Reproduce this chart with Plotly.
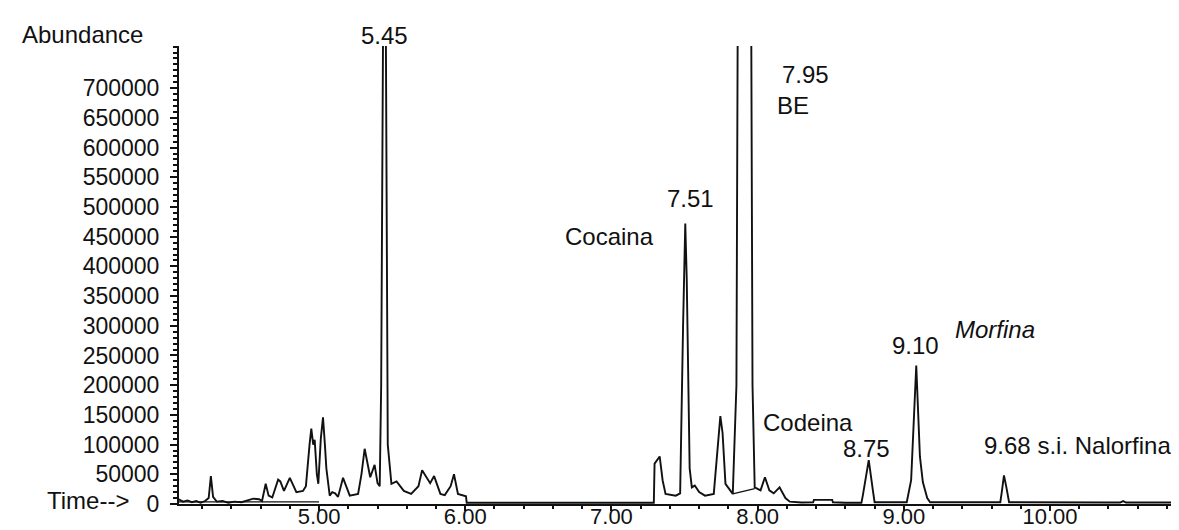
import plotly.graph_objects as go

# ---- chromatogram trace (retention time in min, abundance) ----
time_min = [
    4.04, 4.07, 4.10, 4.13, 4.16, 4.19, 4.22, 4.245, 4.26, 4.275, 4.30, 4.34, 4.38, 4.42,
    4.47, 4.52, 4.55, 4.59, 4.61, 4.635, 4.655, 4.68, 4.705, 4.72, 4.735, 4.76, 4.80, 4.845,
    4.89, 4.91, 4.935, 4.947, 4.96, 4.97, 4.985, 4.995, 5.012, 5.027, 5.04, 5.05, 5.073,
    5.09, 5.11, 5.13, 5.164, 5.19, 5.21, 5.267, 5.29, 5.312, 5.33, 5.35, 5.38, 5.40, 5.415,
    5.425, 5.44, 5.455, 5.47, 5.495, 5.53, 5.58, 5.63, 5.68, 5.705, 5.735, 5.76, 5.787,
    5.83, 5.86, 5.90, 5.923, 5.95, 6.005, 6.01, 6.50, 7.00, 7.29, 7.295, 7.33,
    7.35, 7.37, 7.44, 7.47, 7.49, 7.505, 7.515, 7.535, 7.55, 7.57, 7.60, 7.64, 7.70, 7.73,
    7.745, 7.76, 7.78, 7.83, 7.855, 7.865, 7.955, 7.965, 7.98, 8.02, 8.05, 8.08, 8.11,
    8.15, 8.19, 8.22, 8.30, 8.38, 8.385, 8.51, 8.515, 8.60, 8.71, 8.72, 8.76, 8.79, 8.80,
    9.02, 9.05, 9.085, 9.11, 9.13, 9.16, 9.18, 9.66, 9.67, 9.685, 9.70, 9.72, 10.40,
    10.48, 10.50, 10.52, 10.94,
]
abundance = [
    8000, 4000, 6000, 3000, 5000, 2000, 5000, 10000, 47000, 12000, 4000, 5000, 2000, 4000,
    3000, 6000, 9000, 8000, 5000, 34000, 14000, 11000, 30000, 41000, 38000, 22000, 44000, 20000,
    22000, 30000, 100000, 127000, 100000, 108000, 50000, 34000, 110000, 146000, 100000, 60000, 14000,
    20000, 18000, 12000, 44000, 25000, 14000, 17000, 50000, 93000, 70000, 45000, 66000, 35000, 30000,
    200000, 900000, 900000, 100000, 34000, 38000, 22000, 17000, 30000, 57000, 46000, 35000, 47000,
    17000, 15000, 30000, 50000, 17000, 13000, 2000, 2000, 2000, 2000, 68000, 80000,
    40000, 17000, 14000, 18000, 300000, 472000, 380000, 60000, 28000, 31000, 20000, 14000, 17000, 100000,
    148000, 120000, 34000, 17000, 200000, 900000, 900000, 200000, 28000, 23000, 45000, 23000, 18000,
    28000, 10000, 4000, 2500, 3000, 7000, 7000, 3000, 2000, 2000, 15000, 74000, 20000, 3000,
    3000, 40000, 233000, 80000, 37000, 10000, 3000, 3000, 20000, 48000, 30000, 3000, 2500,
    2500, 5000, 2500, 2500,
]

# integration baselines drawn under peak clusters (None separates segments)
base_time = [4.04, 5.00, None, 7.83, 7.98]
base_abund = [3500, 3500, None, 17000, 26000]

# ---- axis ticks ----
x_ticks = [5, 6, 7, 8, 9, 10]
x_tick_text = ["5.00", "6.00", "7.00", "8.00", "9.00", "10.00"]
y_ticks = [0, 50000, 100000, 150000, 200000, 250000, 300000, 350000,
           400000, 450000, 500000, 550000, 600000, 650000, 700000]

# ---- peak labels: (text, time position, paper y, italic) ----
label_text = ["5.45", "7.95", "BE", "7.51", "Cocaina", "Codeina", "8.75", "9.10",
              "Morfina", "9.68 s.i. Nalorfina"]
label_time = [5.45, 8.324, 8.242, 7.538, 6.984, 8.345, 8.748, 9.077, 9.624, 10.19]
label_ypos = [1.024, 0.937, 0.871, 0.668, 0.585, 0.177, 0.122, 0.345, 0.380, 0.127]
label_italic = [False, False, False, False, False, False, False, False, True, False]

FONT = "Liberation Sans, Arial, sans-serif"
INK = "#111111"

fig = go.Figure()
fig.add_trace(go.Scatter(x=base_time, y=base_abund, mode="lines",
                         line=dict(color=INK, width=1.3), hoverinfo="skip"))
fig.add_trace(go.Scatter(x=time_min, y=abundance, mode="lines",
                         line=dict(color=INK, width=1.9)))

annotations = []
for t, xp, yp, it in zip(label_text, label_time, label_ypos, label_italic):
    txt = f"<i>{t}</i>" if it else t
    annotations.append(dict(text=txt, x=xp, y=yp, xref="x", yref="paper",
                            xanchor="center", yanchor="middle", showarrow=False,
                            font=dict(family=FONT, size=24, color=INK)))
annotations.append(dict(text="Abundance", x=-0.158, y=1.026, xref="paper", yref="paper",
                        xanchor="left", yanchor="middle", showarrow=False,
                        font=dict(family=FONT, size=24, color=INK)))
annotations.append(dict(text="Time-->", x=-0.0476, y=0.007, xref="paper", yref="paper",
                        xanchor="right", yanchor="middle", showarrow=False,
                        font=dict(family=FONT, size=24, color=INK)))

fig.update_layout(
    width=1179, height=530,
    margin=dict(l=171, r=0, t=38, b=34, autoexpand=False),
    paper_bgcolor="white", plot_bgcolor="white",
    showlegend=False,
    annotations=annotations,
    font=dict(family=FONT, size=24, color=INK),
)
fig.update_xaxes(
    automargin=False,
    range=[4.042, 10.937], tickvals=x_ticks, ticktext=x_tick_text,
    showgrid=False, zeroline=False, showline=True, linecolor=INK, linewidth=2,
    ticks="outside", ticklen=5, tickwidth=1.5, tickcolor=INK,
    ticklabelstandoff=-13,
    tickfont=dict(family=FONT, size=22, color=INK),
    minor=dict(dtick=0.2, tick0=5, ticks="outside", ticklen=3, tickcolor=INK, showgrid=False),
)
fig.update_yaxes(
    automargin=False,
    range=[0, 771000], tickvals=y_ticks, tickformat="d",
    showgrid=False, zeroline=False, showline=True, linecolor=INK, linewidth=2,
    ticks="outside", ticklen=7, tickwidth=1.5, tickcolor=INK,
    ticklabelstandoff=6,
    tickfont=dict(family=FONT, size=23, color=INK),
    minor=dict(dtick=10000, tick0=0, ticks="outside", ticklen=4, tickcolor=INK, showgrid=False),
)

fig.write_html("out.html")
